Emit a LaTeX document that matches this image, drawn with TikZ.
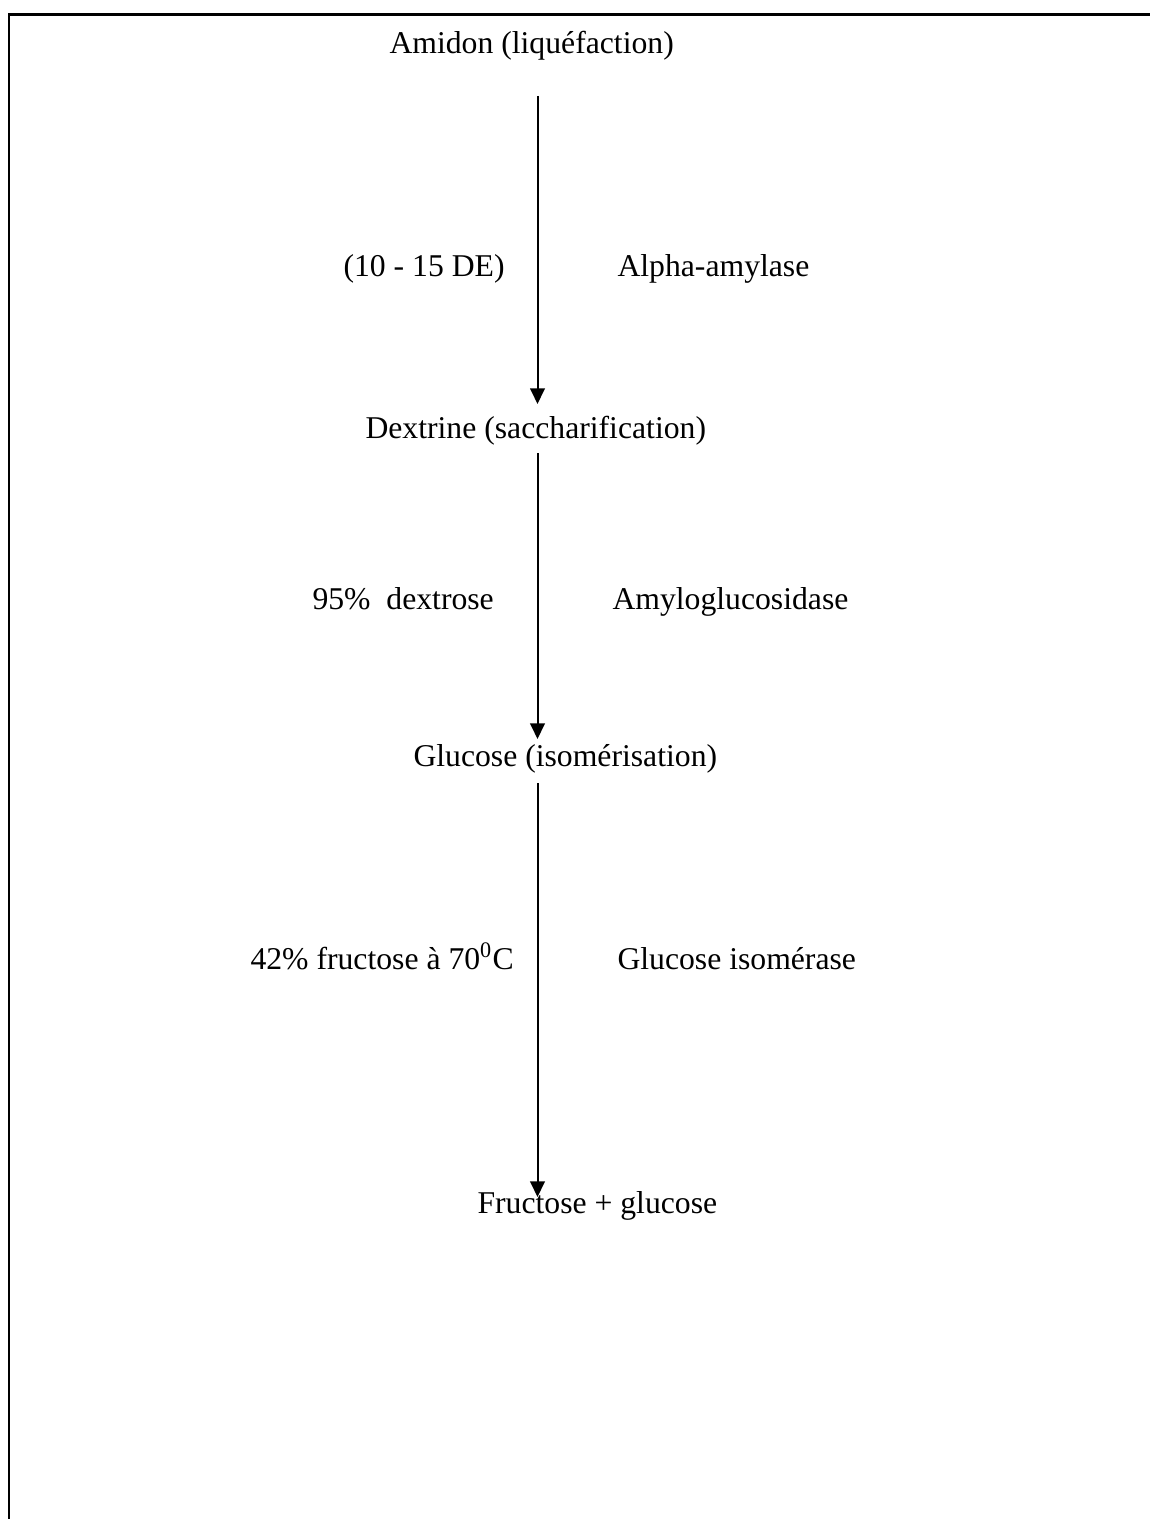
\documentclass[tikz,border=0pt]{standalone}
\usepackage{fontspec}
\setmainfont{Liberation Serif}
\usetikzlibrary{arrows.meta}
\begin{document}
\begin{tikzpicture}[x=0.385pt,y=-0.385pt,
  lbl/.style={anchor=base west,inner sep=0pt,font=\fontsize{12.2pt}{14pt}\selectfont},
  flow/.style={line width=0.77pt,-{Triangle[length=6pt,width=5.6pt]}},
  frame/.style={line width=1.15pt}]
\useasboundingbox (0,0) rectangle (1149,1519);
% frame (top and left sides)
\coordinate (fbl) at (9,1525);
\coordinate (ftl) at (9,14.3);
\coordinate (ftr) at (1155,14.3);
\draw[frame] (fbl) -- (ftl) -- (ftr);
% main products
\node[lbl] (amidon) at (389,54) {Amidon (liquéfaction)};
\node[lbl] (dextrine) at (365,438) {Dextrine (saccharification)};
\node[lbl] (glucose) at (413,766) {Glucose (isomérisation)};
\node[lbl] (fructose) at (477,1213) {Fructose + glucose};
% side labels
\node[lbl] (de) at (343,277) {(10 - 15 DE)};
\node[lbl] (alpha) at (617,277) {Alpha-amylase};
\node[lbl] (dex) at (312,609) {95\%\ \ dextrose};
\node[lbl] (amylo) at (612,609) {Amyloglucosidase};
\node[lbl] (fru) at (250,969) {42\% fructose à 70\textsuperscript{0}C};
\node[lbl] (iso) at (617,969) {Glucose isomérase};
% arrow end points
\coordinate (a1s) at (537.5,96);
\coordinate (a1e) at (537.5,404);
\coordinate (a2s) at (537.5,453);
\coordinate (a2e) at (537.5,739);
\coordinate (a3s) at (537.5,783);
\coordinate (a3e) at (537.5,1197);
\draw[flow] (a1s) -- (a1e);
\draw[flow] (a2s) -- (a2e);
\draw[flow] (a3s) -- (a3e);
\end{tikzpicture}
\end{document}
